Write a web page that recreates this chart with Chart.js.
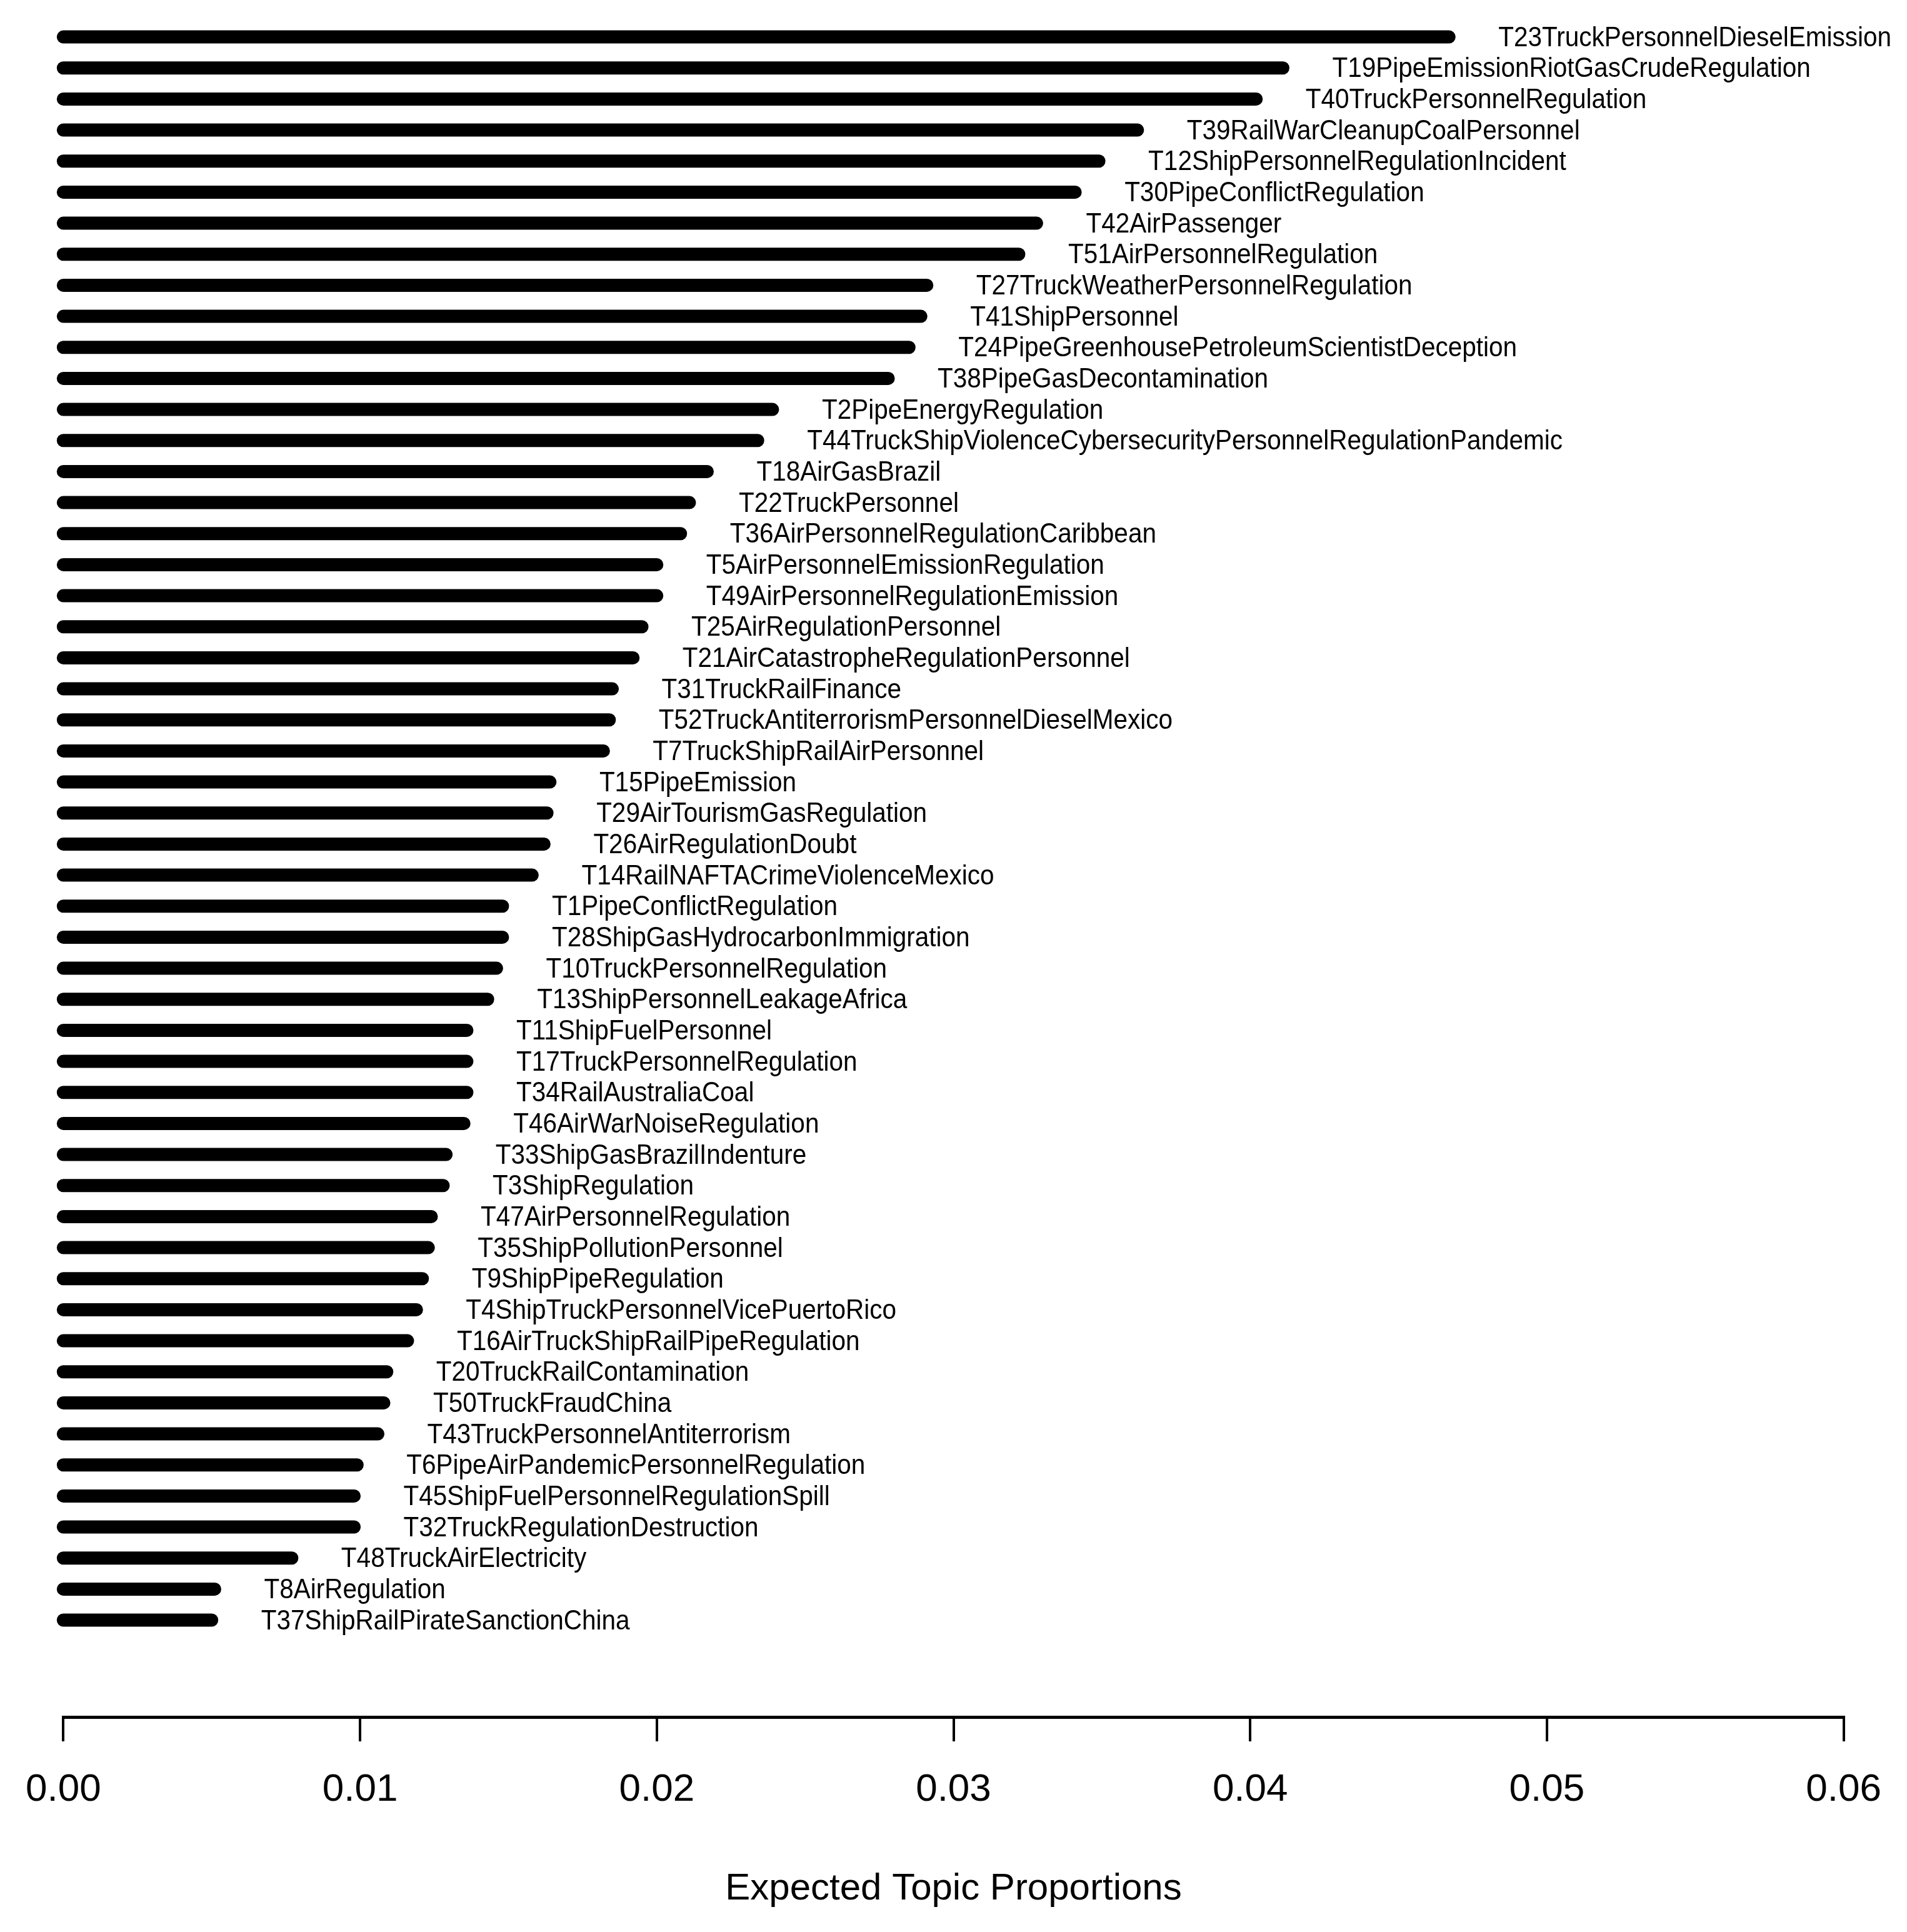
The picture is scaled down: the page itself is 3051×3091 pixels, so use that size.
<!DOCTYPE html>
<html>
<head>
<meta charset="utf-8">
<script src="https://cdn.jsdelivr.net/npm/chart.js@4/dist/chart.umd.min.js"></script>
<style>
  html, body { margin: 0; padding: 0; background: #ffffff; }
  #wrap { width: 3051px; height: 3091px; }
  canvas { display: block; }
</style>
</head>
<body>
<div id="wrap"><canvas id="c" width="3051" height="3091"></canvas></div>
<script>
// Topic labels, listed from top to bottom
const topics = [
  "T23TruckPersonnelDieselEmission",
  "T19PipeEmissionRiotGasCrudeRegulation",
  "T40TruckPersonnelRegulation",
  "T39RailWarCleanupCoalPersonnel",
  "T12ShipPersonnelRegulationIncident",
  "T30PipeConflictRegulation",
  "T42AirPassenger",
  "T51AirPersonnelRegulation",
  "T27TruckWeatherPersonnelRegulation",
  "T41ShipPersonnel",
  "T24PipeGreenhousePetroleumScientistDeception",
  "T38PipeGasDecontamination",
  "T2PipeEnergyRegulation",
  "T44TruckShipViolenceCybersecurityPersonnelRegulationPandemic",
  "T18AirGasBrazil",
  "T22TruckPersonnel",
  "T36AirPersonnelRegulationCaribbean",
  "T5AirPersonnelEmissionRegulation",
  "T49AirPersonnelRegulationEmission",
  "T25AirRegulationPersonnel",
  "T21AirCatastropheRegulationPersonnel",
  "T31TruckRailFinance",
  "T52TruckAntiterrorismPersonnelDieselMexico",
  "T7TruckShipRailAirPersonnel",
  "T15PipeEmission",
  "T29AirTourismGasRegulation",
  "T26AirRegulationDoubt",
  "T14RailNAFTACrimeViolenceMexico",
  "T1PipeConflictRegulation",
  "T28ShipGasHydrocarbonImmigration",
  "T10TruckPersonnelRegulation",
  "T13ShipPersonnelLeakageAfrica",
  "T11ShipFuelPersonnel",
  "T17TruckPersonnelRegulation",
  "T34RailAustraliaCoal",
  "T46AirWarNoiseRegulation",
  "T33ShipGasBrazilIndenture",
  "T3ShipRegulation",
  "T47AirPersonnelRegulation",
  "T35ShipPollutionPersonnel",
  "T9ShipPipeRegulation",
  "T4ShipTruckPersonnelVicePuertoRico",
  "T16AirTruckShipRailPipeRegulation",
  "T20TruckRailContamination",
  "T50TruckFraudChina",
  "T43TruckPersonnelAntiterrorism",
  "T6PipeAirPandemicPersonnelRegulation",
  "T45ShipFuelPersonnelRegulationSpill",
  "T32TruckRegulationDestruction",
  "T48TruckAirElectricity",
  "T8AirRegulation",
  "T37ShipRailPirateSanctionChina"
];

// Expected topic proportions, same order
const proportions = [
  0.0467, 0.0411, 0.0402, 0.0362, 0.0349, 0.0341, 0.0328, 0.0322,
  0.0291, 0.0289, 0.0285, 0.0278, 0.0239, 0.0234, 0.0217, 0.0211,
  0.0208, 0.0200, 0.0200, 0.0195, 0.0192, 0.0185, 0.0184, 0.0182,
  0.0164, 0.0163, 0.0162, 0.0158, 0.0148, 0.0148, 0.0146, 0.0143,
  0.0136, 0.0136, 0.0136, 0.0135, 0.0129, 0.0128, 0.0124, 0.0123,
  0.0121, 0.0119, 0.0116, 0.0109, 0.0108, 0.0106, 0.0099, 0.0098,
  0.0098, 0.0077, 0.0051, 0.0050
];

// Axis ticks
const xTicks = [0.00, 0.01, 0.02, 0.03, 0.04, 0.05, 0.06];
const xTitle = "Expected Topic Proportions";

const FONT = '"Liberation Sans", Arial, "DejaVu Sans", sans-serif';
const n = topics.length;

const datasets = proportions.map((v, i) => ({
  label: topics[i],
  data: [{x: 0, y: n - i}, {x: v, y: n - i}],
  showLine: true,
  borderColor: '#000000',
  backgroundColor: '#000000',
  borderWidth: 21,
  borderCapStyle: 'round',
  pointRadius: 0,
  pointHoverRadius: 0,
  clip: false
}));

const labelPlugin = {
  id: 'topicLabels',
  afterDatasetsDraw(chart) {
    const ctx = chart.ctx;
    const xs = chart.scales.x, ys = chart.scales.y;
    const size = 40.5, stretch = 1.08;
    ctx.save();
    ctx.fillStyle = '#000000';
    ctx.font = size + 'px ' + FONT;
    ctx.textAlign = 'left';
    ctx.textBaseline = 'alphabetic';
    proportions.forEach((v, i) => {
      const px = xs.getPixelForValue(v) + 79;
      const py = ys.getPixelForValue(n - i);
      ctx.save();
      ctx.translate(px, py);
      ctx.scale(1, stretch);
      ctx.fillText(topics[i], 0, size * 0.716 / 2 - 1);
      ctx.restore();
    });
    ctx.restore();
  }
};

new Chart(document.getElementById('c'), {
  type: 'scatter',
  data: { datasets },
  options: {
    responsive: false,
    animation: false,
    events: [],
    layout: { padding: { left: 97.5, right: 100.6, top: 0, bottom: 0 } },
    plugins: { legend: { display: false }, tooltip: { enabled: false } },
    scales: {
      x: {
        type: 'linear',
        position: 'bottom',
        min: xTicks[0],
        max: xTicks[xTicks.length - 1],
        afterBuildTicks(scale) { scale.ticks = xTicks.map(v => ({ value: v })); },
        afterFit(scale) { scale.height = 344; },
        border: { display: true, color: '#000000', width: 5 },
        grid: { drawOnChartArea: false, drawTicks: true, tickLength: 39, tickWidth: 4, tickColor: '#000000', color: '#000000', lineWidth: 4 },
        ticks: {
          color: '#000000',
          padding: 41,
          maxRotation: 0,
          autoSkip: false,
          font: { family: FONT, size: 62 },
          callback: (v) => Number(v).toFixed(2)
        },
        title: {
          display: true,
          text: xTitle,
          color: '#000000',
          font: { family: FONT, size: 60 },
          padding: { top: 0, bottom: 33 }
        }
      },
      y: {
        type: 'linear',
        display: false,
        min: -2.12,
        max: 53.19
      }
    }
  },
  plugins: [labelPlugin]
});
</script>
</body>
</html>
